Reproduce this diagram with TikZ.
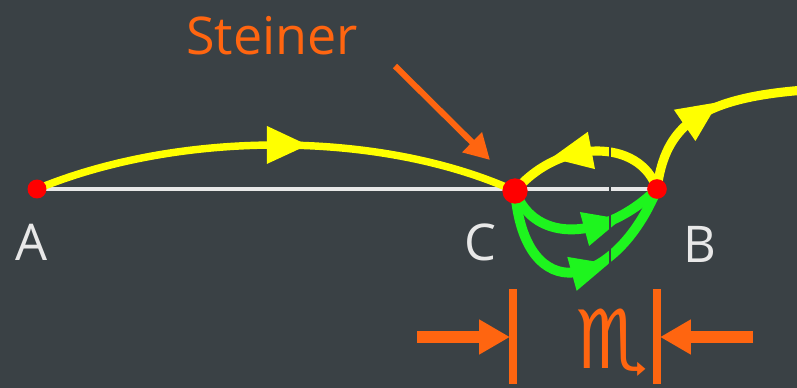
\documentclass[tikz,border=0pt]{standalone}
\usepackage{fontspec}
\setmainfont{Open Sans}
\newfontfamily\symfont{DejaVu Sans}
\definecolor{bgBoard}{HTML}{3A4145}
\definecolor{pathYellow}{HTML}{FFFF00}
\definecolor{pathGreen}{HTML}{1EF51E}
\definecolor{dotRed}{HTML}{FF0000}
\definecolor{accentOrange}{HTML}{FF6510}
\definecolor{lineWhite}{HTML}{E8E8E8}
\usepackage{tikz}
\usetikzlibrary{arrows.meta, shapes.geometric}

\begin{document}
\begin{tikzpicture}[x=0.025cm, y=0.025cm,
    yellowpath/.style={draw=pathYellow, line width=6.5pt},
    greenpath/.style={draw=pathGreen, line width=7pt},
    headtri/.style={isosceles triangle, isosceles triangle stretches, sloped,
        allow upside down, inner sep=0pt, minimum width=27pt, minimum height=29pt},
    dot/.style={circle, fill=dotRed, inner sep=0pt, minimum size=#1},
    letter/.style={text=lineWhite, font=\fontsize{36}{40}\selectfont},
    orangeline/.style={draw=accentOrange, line width=8.5pt},
    orangebar/.style={draw=accentOrange, line width=5pt}]
  \fill[bgBoard] (0,0) rectangle (797,-388);
  \useasboundingbox (0,0) rectangle (797,-388);

  \coordinate (A) at (37,-189);
  \coordinate (C) at (515,-191);
  \coordinate (B) at (657,-189);
  \coordinate (exit) at (805,-90);

  % base segment
  \draw[lineWhite, line width=2.3pt] (A) -- (B);

  % yellow paths
  \draw[yellowpath, line width=5.3pt] (A) .. controls (180,-130) and (380,-130) .. (C)
    node[headtri, fill=pathYellow, pos=0.5] (headAC) {};
  \draw[yellowpath] (B) .. controls (640,-138) and (560,-138) .. (C)
    node[headtri, fill=pathYellow, pos=0.6] (headBC) {};
  \draw[yellowpath] (B) .. controls (665,-125) and (700,-98) .. (exit)
    node[headtri, fill=pathYellow, pos=0.5] (headOut) {};

  % green paths
  \draw[greenpath] (C) .. controls (535,-245) and (605,-240) .. (B)
    node[headtri, fill=pathGreen, pos=0.63, minimum width=25pt, minimum height=27pt] (headG1) {};
  \draw[greenpath] (C) .. controls (525,-310) and (615,-290) .. (B)
    node[headtri, fill=pathGreen, pos=0.55, minimum width=25pt, minimum height=27pt] (headG2) {};

  % cut marks
  \draw[bgBoard, line width=0.8pt] (610,-140) -- (610,-268);

  % points
  \node[dot=13.5pt] (dotA) at (A) {};
  \node[dot=18pt] (dotC) at (C) {};
  \node[dot=14pt] (dotB) at (B) {};

  \node[letter] (labA) at (32,-242) {A};
  \node[letter] (labC) at (480,-242) {C};
  \node[letter] (labB) at (700,-244) {B};

  % Steiner pointer
  \node[text=accentOrange, font=\fontsize{37}{40}\selectfont] (steiner) at (272,-36) {Steiner};
  \coordinate (ptrStart) at (395,-66);
  \coordinate (ptrTip) at (490,-160);
  \draw[draw=accentOrange, line width=4.3pt, -{Triangle[length=18pt, width=19pt]}] (ptrStart) -- (ptrTip);

  % width marker
  \draw[orangebar] (513,-289) -- (513,-384);
  \draw[orangebar] (657,-289) -- (657,-384);
  \coordinate (leftFrom) at (417,-337);
  \coordinate (leftTo) at (510,-337);
  \coordinate (rightFrom) at (753,-337);
  \coordinate (rightTo) at (660,-337);
  \draw[orangeline, -{Triangle[length=22pt, width=23.5pt]}] (leftFrom) -- (leftTo);
  \draw[orangeline, -{Triangle[length=22pt, width=23.5pt]}] (rightFrom) -- (rightTo);
  \node[text=accentOrange, font=\symfont\fontsize{58}{62}\selectfont] (gap) at (612,-343) {♏};
\end{tikzpicture}
\end{document}
